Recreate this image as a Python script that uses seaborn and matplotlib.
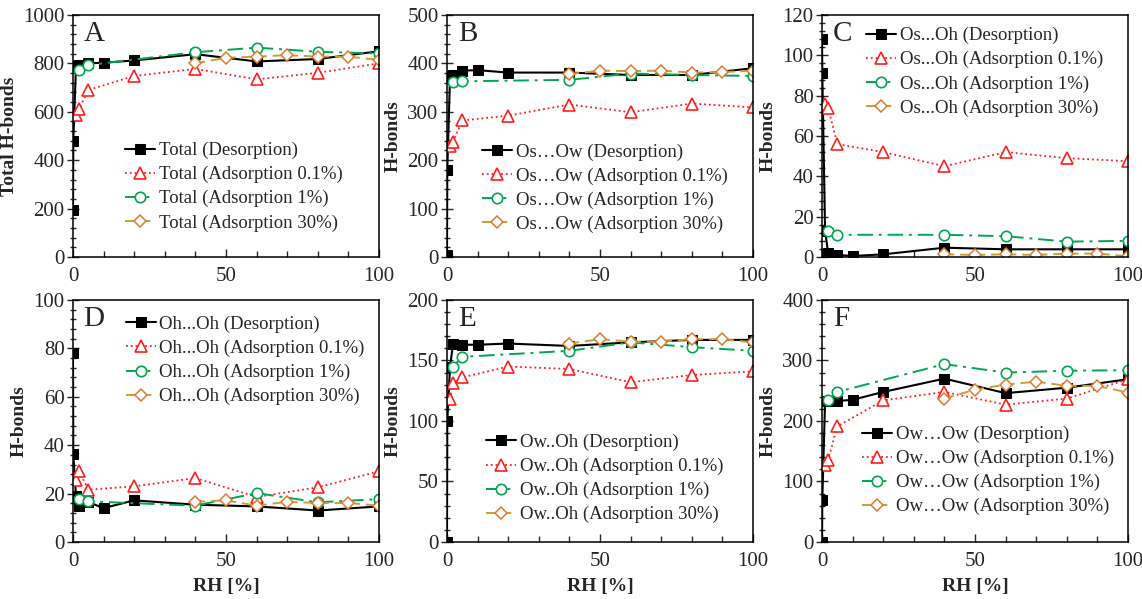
import matplotlib
matplotlib.use("Agg")
import matplotlib.pyplot as plt
from matplotlib.ticker import AutoMinorLocator, MultipleLocator
import seaborn as sns

# RH values for each series
rh_des = [0, 0.1, 1, 2, 5, 10, 20, 40, 60, 80, 100]
rh_01 = [1, 2, 5, 20, 40, 60, 80, 100]
rh_1 = [2, 5, 40, 60, 80, 100]
rh_30 = [40, 50, 60, 70, 80, 90, 100]

# A - Total
total_des = [193, 480, 790, 795, 800, 803, 812, 838, 808, 818, 850]
total_01 = [586, 611, 690, 748, 777, 734, 761, 800]
total_1 = [772, 793, 846, 865, 848, 841]
total_30 = [800, 823, 828, 834, 828, 828, 814]

# B - Os...Ow
osow_des = [5, 180, 374, 376, 385, 386, 381, 381, 376, 376, 390]
osow_01 = [229, 238, 282, 292, 315, 299, 317, 309]
osow_1 = [361, 363, 366, 379, 376, 374]
osow_30 = [378, 385, 384, 385, 381, 382, 385]

# C - Os...Oh
osoh_des = [108, 91, 13, 2, 1, 0.5, 1.3, 4.6, 3.8, 3.8, 3.8]
osoh_01 = [76, 74, 56, 52, 45, 52, 49, 47.5]
osoh_1 = [13, 11, 11, 10.3, 7.6, 8]
osoh_30 = [1.3, 1, 1.3, 1, 1.7, 1.7, 0.3]

# D - Oh...Oh
ohoh_des = [78, 36.3, 18.8, 15, 16.5, 14, 17.2, 15.4, 14.7, 13, 14.7]
ohoh_01 = [25.5, 29.4, 21.6, 23, 26.4, 18.6, 22.6, 29.2]
ohoh_1 = [17.7, 16.8, 15, 20.2, 16.4, 17.7]
ohoh_30 = [16.6, 17.2, 15, 16.6, 16.1, 16.1, 15]

# E - Ow..Oh
owoh_des = [0, 100, 145, 164, 163, 163, 164, 162, 165, 167, 167]
owoh_01 = [118, 131, 136, 145, 143, 132, 138, 141]
owoh_1 = [145, 153, 158, 165, 161, 158]
owoh_30 = [164, 167.6, 165.6, 165.6, 167.6, 167.6, 165]

# F - Ow...Ow
owow_des = [0, 70, 233, 233, 233, 235, 248, 270, 246, 255, 269]
owow_01 = [128, 136, 191, 234, 248, 227, 237, 269]
owow_1 = [234, 248, 294, 280, 283, 284]
owow_30 = [237, 252, 260, 265, 258, 258, 247]

panels = [
    ("A", "Total", "Total H-bonds", total_des, total_01, total_1, total_30, 1000, 200, (0.17, 0.475)),
    ("B", "Os\u2026Ow", "H-bonds", osow_des, osow_01, osow_1, osow_30, 500, 100, (0.115, 0.47)),
    ("C", "Os...Oh", "H-bonds", osoh_des, osoh_01, osoh_1, osoh_30, 120, 20, (0.145, 0.95)),
    ("D", "Oh...Oh", "H-bonds", ohoh_des, ohoh_01, ohoh_1, ohoh_30, 100, 20, (0.172, 0.935)),
    ("E", "Ow..Oh", "H-bonds", owoh_des, owoh_01, owoh_1, owoh_30, 200, 50, (0.128, 0.447)),
    ("F", "Ow\u2026Ow", "H-bonds", owow_des, owow_01, owow_1, owow_30, 400, 100, (0.131, 0.48)),
]

sns.set_style("ticks")
plt.rcParams['font.family'] = ['Liberation Serif', 'DejaVu Serif']

fig = plt.figure(figsize=(11.42, 5.99), dpi=100)

lefts = [0.0639, 0.3914, 0.7198]
width = 0.268
bottoms = [0.571, 0.0952]
height = 0.404

red = '#ff1f1f'
green = '#00a651'
gold = '#c9a033'
orange = '#e07a2e'

for i, (letter, prefix, ylab, des, a01, a1, a30, ymax, ystep, legpos) in enumerate(panels):
    row, col = divmod(i, 3)
    ax = fig.add_axes([lefts[col], bottoms[row], width, height])

    sns.lineplot(x=rh_des, y=des, ax=ax, color='black', linewidth=1.5,
                 marker='s', markersize=6.5, markeredgecolor='black',
                 estimator=None, sort=False, label=f"{prefix} (Desorption)")
    sns.lineplot(x=rh_01, y=a01, ax=ax, color=red, linewidth=1.3, linestyle=':',
                 marker='^', markersize=9, markerfacecolor='white', markeredgecolor=red,
                 markeredgewidth=1.2, estimator=None, sort=False,
                 label=f"{prefix} (Adsorption 0.1%)")
    sns.lineplot(x=rh_1, y=a1, ax=ax, color=green, linewidth=1.4, dashes=[8, 3, 1.5, 3],
                 marker='o', markersize=7.5, markerfacecolor='white', markeredgecolor=green,
                 markeredgewidth=1.2, estimator=None, sort=False,
                 label=f"{prefix} (Adsorption 1%)")
    sns.lineplot(x=rh_30, y=a30, ax=ax, color=gold, linewidth=1.4, dashes=[5, 3],
                 marker='D', markersize=6.5, markerfacecolor='white', markeredgecolor=orange,
                 markeredgewidth=1.1, estimator=None, sort=False,
                 label=f"{prefix} (Adsorption 30%)")

    ax.set_xlim(0, 100)
    ax.set_ylim(0, ymax)
    ax.xaxis.set_major_locator(MultipleLocator(50))
    ax.xaxis.set_minor_locator(AutoMinorLocator(5))
    ax.yaxis.set_major_locator(MultipleLocator(ystep))
    ax.yaxis.set_minor_locator(AutoMinorLocator(5))
    ax.tick_params(axis='x', which='major', direction='in', length=6, width=1, labelsize=15, pad=7)
    ax.tick_params(axis='x', which='minor', direction='in', length=4, width=1)
    ax.tick_params(axis='y', which='major', direction='inout', length=8, width=1, labelsize=15, pad=2)
    ax.tick_params(axis='y', which='minor', direction='inout', length=5, width=1)
    for sp in ax.spines.values():
        sp.set_linewidth(1.1)
        sp.set_color('black')

    ax.set_ylabel(ylab, fontsize=14, weight='bold', labelpad=4)
    if row == 1:
        ax.set_xlabel("RH [%]", fontsize=14, weight='bold', labelpad=5)
    else:
        ax.set_xlabel("")

    ax.text(0.035, 0.975, letter, transform=ax.transAxes, fontsize=21, va='top', ha='left')

    ax.legend(loc='upper left', bbox_to_anchor=legpos, frameon=False, borderpad=0,
              borderaxespad=0, handlelength=1.6, handletextpad=0.2, labelspacing=0.36,
              fontsize=13.5)

fig.savefig("out.png", dpi=100)
